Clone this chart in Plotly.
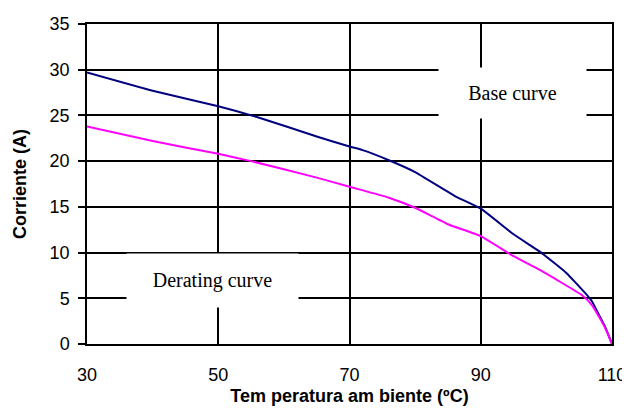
import plotly.graph_objects as go

# Data
temp_base = [30, 40, 50, 56, 65, 70, 72, 76, 80, 86, 90, 95, 99, 103, 106, 107, 108, 109, 110]
base_curve = [29.7, 27.7, 26.0, 24.8, 22.7, 21.6, 21.2, 20.1, 18.8, 16.2, 14.8, 12.0, 10.1, 7.8, 5.5, 4.6, 3.2, 1.8, 0]

temp_derating = [30, 40, 50, 55, 65, 70, 76, 80, 85, 90, 95, 99, 105.5, 107, 108, 109, 110]
derating_curve = [23.8, 22.2, 20.8, 20.0, 18.2, 17.2, 16.0, 14.9, 13.1, 11.8, 9.6, 8.1, 5.3, 4.2, 3.0, 1.7, 0]

x_ticks = [30, 50, 70, 90, 110]
y_ticks = [0, 5, 10, 15, 20, 25, 30, 35]

fig = go.Figure()
fig.add_trace(go.Scatter(x=temp_base, y=base_curve, mode="lines",
                         line=dict(color="#000080", width=2, shape="spline", smoothing=0.4),
                         name="Base curve", showlegend=False))
fig.add_trace(go.Scatter(x=temp_derating, y=derating_curve, mode="lines",
                         line=dict(color="#FF00FF", width=2, shape="spline", smoothing=0.4),
                         name="Derating curve", showlegend=False))

fig.add_annotation(x=94.8, y=27.4, text="Base curve", showarrow=False,
                   font=dict(family="Liberation Serif", size=20, color="black"),
                   bgcolor="white", width=145, height=48)
fig.add_annotation(x=49.1, y=6.98, text="Derating curve", showarrow=False,
                   font=dict(family="Liberation Serif", size=20, color="black"),
                   bgcolor="white", width=169, height=51)

fig.update_layout(
    width=622, height=406,
    margin=dict(l=79, r=18, t=16, b=70, autoexpand=False),
    paper_bgcolor="white", plot_bgcolor="white",
    font=dict(family="Liberation Sans, Arial", size=18, color="black"),
)
fig.update_xaxes(range=[30, 110], tickvals=x_ticks, showgrid=True, gridcolor="black", gridwidth=1.5,
                 showline=True, linecolor="black", linewidth=1.5, mirror=True, automargin=False,
                 ticks="outside", ticklen=14, tickcolor="rgba(0,0,0,0)", zeroline=False,
                 title=dict(text="<b>Tem peratura am biente (ºC)</b>", font=dict(size=18), standoff=5))
fig.update_yaxes(range=[0, 35], tickvals=y_ticks, showgrid=True, gridcolor="black", gridwidth=1.5,
                 showline=True, linecolor="black", linewidth=1.5, mirror=True, automargin=False,
                 ticks="outside", ticklen=7, tickcolor="black", tickwidth=1.5, zeroline=False,
                 ticklabelstandoff=5,
                 title=dict(text="<b>Corriente (A)</b>", font=dict(size=18), standoff=18))

fig.write_html("out.html")
